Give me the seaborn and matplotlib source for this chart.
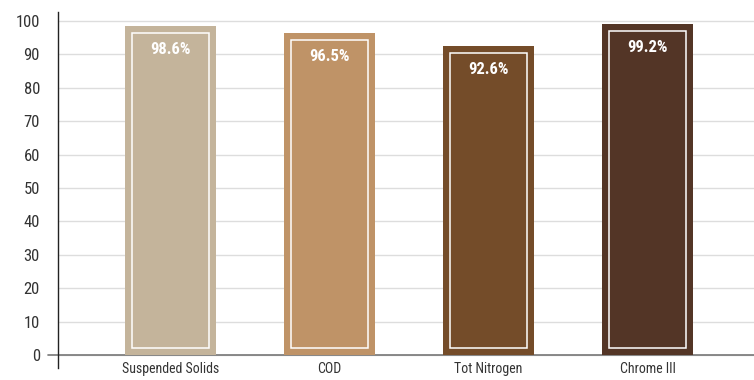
import matplotlib
matplotlib.use("Agg")
import matplotlib.pyplot as plt
import seaborn as sns
import pandas as pd

# ---------------- DATA ----------------
categories = ["Suspended Solids", "COD", "Tot Nitrogen", "Chrome III"]
removal = [98.6, 96.5, 92.6, 99.2]
bar_colors = ["#C4B49B", "#BF9367", "#744C29", "#533526"]
yticks = [0, 10, 20, 30, 40, 50, 60, 70, 80, 90, 100]

df = pd.DataFrame({"param": categories, "value": removal})

sns.set_style("white")
plt.rcParams["font.family"] = ["Liberation Sans Narrow", "Roboto Condensed", "Roboto", "DejaVu Sans"]

fig = plt.figure(figsize=(7.54, 3.80), dpi=100)
ax = fig.add_axes([58 / 754, 12 / 380, 1 - 58 / 754, 356 / 380])

sns.barplot(data=df, x="param", y="value", hue="param", palette=bar_colors,
            width=0.572, legend=False, ax=ax, zorder=3, saturation=1,
            linewidth=0, edgecolor="none")

# inner white frame on each bar
inner = [v - 4.2 for v in removal]
ax.bar(range(len(categories)), inner, bottom=2.1, width=0.484, fill=False,
       edgecolor="white", linewidth=1.1, zorder=4)

for i, v in enumerate(removal):
    ax.text(i, v - 7.0, f"{v}%", ha="center", va="center", color="white",
            fontsize=12, fontweight="bold", zorder=5)

ax.set_xlim(-0.71, 3.67)
ax.set_ylim(-3.9, 102.7)
ax.set_yticks(yticks)
ax.set_yticklabels([str(t) for t in yticks], fontsize=12, color="#333333")
ax.yaxis.grid(True, color="#DDDDDD", linewidth=1, zorder=0)
ax.axhline(0, color="#777777", linewidth=1.2, zorder=2, xmin=-10 / 696, clip_on=False)
ax.tick_params(axis="y", length=10, color="#DDDDDD", width=1, pad=3)
ax.tick_params(axis="x", length=0, pad=-4, labelsize=10, labelcolor="#333333")

ax.set_xlabel("")
ax.set_ylabel("")
for s in ["top", "right", "bottom"]:
    ax.spines[s].set_visible(False)
ax.spines["left"].set_color("#222222")
ax.spines["left"].set_linewidth(1)

fig.savefig("out.png", dpi=100)
